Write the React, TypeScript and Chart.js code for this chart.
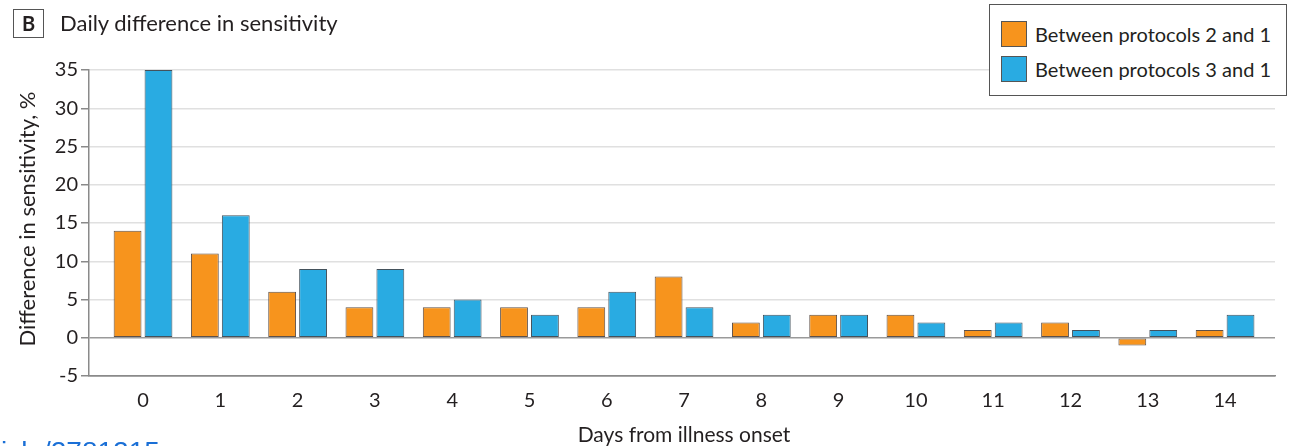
import React, { useEffect, useRef } from "react";
import { Chart, registerables } from "chart.js";

Chart.register(...registerables);

const days = [0, 1, 2, 3, 4, 5, 6, 7, 8, 9, 10, 11, 12, 13, 14];
const between2and1 = [14, 11, 6, 4, 4, 4, 4, 8, 2, 3, 3, 1, 2, -1, 1];
const between3and1 = [35, 16, 9, 9, 5, 3, 6, 4, 3, 3, 2, 2, 1, 1, 3];
const seriesLabels = ["Between protocols 2 and 1", "Between protocols 3 and 1"];
const seriesColors = ["#F7941D", "#29ABE2"];
const yMin = -5;
const yMax = 35;
const yStep = 5;

const FONT = "Lato, 'Liberation Sans', sans-serif";
const TEXT = "#231f20";

export default function App() {
  const ref = useRef<HTMLCanvasElement>(null);

  useEffect(() => {
    document.body.style.margin = "0";
    const chart = new Chart(ref.current!, {
      type: "bar",
      data: {
        datasets: [
          {
            label: seriesLabels[0],
            data: days.map((d, i) => ({ x: d, y: between2and1[i] })),
            backgroundColor: seriesColors[0],
            borderColor: "#5e5048",
            borderWidth: 1,
            borderSkipped: false,
          },
          {
            label: seriesLabels[1],
            data: days.map((d, i) => ({ x: d, y: between3and1[i] })),
            backgroundColor: seriesColors[1],
            borderColor: "#44525c",
            borderWidth: 1,
            borderSkipped: false,
          },
        ],
      },
      options: {
        animation: false,
        responsive: false,
        maintainAspectRatio: false,
        layout: { padding: { left: 0, right: 19, top: 70, bottom: 0 } },
        plugins: {
          legend: { display: false },
          tooltip: { enabled: false },
          title: { display: false },
        },
        datasets: { bar: { categoryPercentage: 0.8, barPercentage: 0.9 } },
        scales: {
          x: {
            type: "linear",
            min: -0.699,
            max: 14.646,
            offset: false,
            grid: { display: false },
            border: { display: true, color: "#8a8a8a", width: 1.5 },
            ticks: {
              stepSize: 1,
              includeBounds: false,
              autoSkip: false,
              maxRotation: 0,
              padding: 5,
              color: TEXT,
              font: { family: FONT, size: 20 },
              callback: (v: any) => (days.includes(Number(v)) ? String(v) : ""),
            },
            afterFit: (s: any) => {
              s.height = 446 - 376;
            },
          },
          y: {
            min: yMin,
            max: yMax,
            ticks: {
              stepSize: yStep,
              padding: 3,
              color: TEXT,
              font: { family: FONT, size: 20 },
            },
            grid: {
              color: (ctx: any) =>
                ctx.tick && ctx.tick.value === 0
                  ? "#9a9a9a"
                  : ctx.tick && ctx.tick.value === yMin
                  ? "#8a8a8a"
                  : "#e0e0e0",
              lineWidth: 1.5,
              tickLength: 8,
              tickColor: "#8a8a8a",
            },
            border: { display: true, color: "#8a8a8a", width: 1.5 },
            afterFit: (s: any) => {
              s.width = 89;
            },
          },
        },
      },
    });
    return () => chart.destroy();
  }, []);

  return (
    <div
      style={{
        position: "fixed",
        left: 0,
        top: 0,
        width: 1294,
        height: 446,
        overflow: "hidden",
        background: "#fff",
        fontFamily: FONT,
        color: TEXT,
      }}
    >
      <canvas
        ref={ref}
        width={1294}
        height={446}
        style={{ position: "absolute", left: 0, top: 0, width: 1294, height: 446, display: "block" }}
      />
      {/* Panel label */}
      <div
        style={{
          position: "absolute",
          left: 13,
          top: 9,
          width: 29,
          height: 27,
          border: "1px solid #555",
          fontWeight: 700,
          fontSize: 20,
          lineHeight: "27px",
          textAlign: "center",
        }}
      >
        B
      </div>
      <div
        style={{
          position: "absolute",
          left: 60,
          top: 10,
          fontSize: 22,
          lineHeight: "26px",
          whiteSpace: "nowrap",
        }}
      >
        Daily difference in sensitivity
      </div>
      {/* Legend */}
      <div
        style={{
          position: "absolute",
          left: 989,
          top: 4,
          width: 296,
          height: 90,
          border: "1px solid #555",
          background: "#fff",
        }}
      >
        {seriesLabels.map((lab, i) => (
          <div
            key={lab}
            style={{
              position: "absolute",
              left: 11,
              top: 16 + i * 35,
              height: 26,
              display: "flex",
              alignItems: "center",
              whiteSpace: "nowrap",
            }}
          >
            <div
              style={{
                width: 24,
                height: 24,
                background: seriesColors[i],
                border: "1px solid #555",
                marginRight: 8,
              }}
            />
            <span style={{ fontSize: 20, lineHeight: "26px" }}>{lab}</span>
          </div>
        ))}
      </div>
      {/* Y axis title */}
      <div
        style={{
          position: "absolute",
          left: 27 - 160,
          top: 219 - 13,
          width: 320,
          height: 26,
          lineHeight: "26px",
          fontSize: 22,
          textAlign: "center",
          transform: "rotate(-90deg)",
          whiteSpace: "nowrap",
        }}
      >
        Difference in sensitivity, %
      </div>
      {/* X axis title */}
      <div
        style={{
          position: "absolute",
          left: 684 - 200,
          top: 421,
          width: 400,
          fontSize: 21,
          lineHeight: "26px",
          textAlign: "center",
          whiteSpace: "nowrap",
        }}
      >
        Days from illness onset
      </div>
      {/* Cropped source link at the bottom edge */}
      <div
        style={{
          position: "absolute",
          left: 1,
          top: 436,
          fontFamily: "'Liberation Sans', Arial, sans-serif",
          fontSize: 28,
          lineHeight: "32px",
          color: "#1a6fd6",
          whiteSpace: "nowrap",
        }}
      >
        icle/2781215
      </div>
    </div>
  );
}
